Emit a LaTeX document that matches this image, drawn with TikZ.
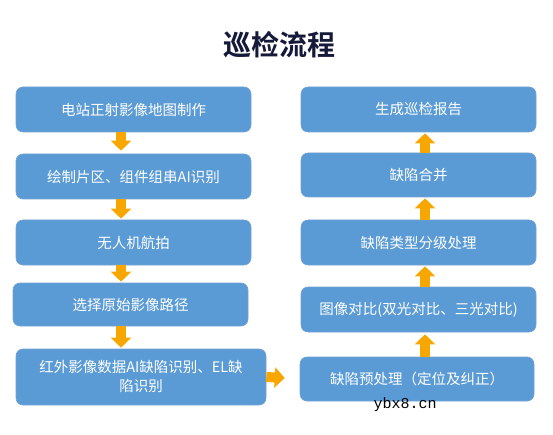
\documentclass[tikz,border=0pt]{standalone}
\usepackage{fontspec}
\usepackage{tikz}
\usetikzlibrary{arrows.meta, positioning}
\newfontfamily\cjk[BoldFont={Noto Sans CJK SC Bold}]{Noto Sans CJK SC}
\newfontfamily\wmfont{Liberation Mono}
\definecolor{boxblue}{RGB}{91,155,213}
\definecolor{boxedge}{RGB}{112,162,212}
\definecolor{flowgold}{RGB}{247,167,0}
\definecolor{titlenavy}{RGB}{22,26,58}

\begin{document}
\begin{tikzpicture}[x=1pt, y=-1pt,
    stepbox/.style={rectangle, rounded corners=7pt, fill=boxblue, draw=boxedge, line width=0.6pt,
      text=white, font=\cjk\fontsize{14.5}{19}\selectfont, align=center,
      minimum width=235pt, minimum height=45pt, inner sep=0pt},
    flow/.style={draw=flowgold, line width=10pt, -{Triangle[width=20pt 0 0, length=10pt 0 0]}}]
    \useasboundingbox (0,0) rectangle (553,435);

    % Title
    \node[font=\cjk\bfseries\fontsize{28}{32}\selectfont, text=titlenavy] (title) at (279,45) {巡检流程};

    % Left column
    \node[stepbox] (b1) at (133.5,109.5) {电站正射影像地图制作};
    \node[stepbox] (b2) at (133.5,176.5) {绘制片区、组件组串AI识别};
    \node[stepbox] (b3) at (133.5,242.5) {无人机航拍};
    \node[stepbox, minimum height=43pt] (b4) at (130.5,304.5) {选择原始影像路径};
    \node[stepbox, minimum width=250pt, minimum height=56pt] (b5) at (141,377)
        {红外影像数据AI缺陷识别、EL缺\\陷识别};

    % Right column
    \node[stepbox] (r1) at (418.5,109.5) {生成巡检报告};
    \node[stepbox, minimum height=44pt] (r2) at (418.5,175) {缺陷合并};
    \node[stepbox] (r3) at (418.5,242.5) {缺陷类型分级处理};
    \node[stepbox] (r4) at (418.5,309.5) {图像对比(双光对比、三光对比)};
    \node[stepbox, minimum width=234pt, minimum height=44pt] (r5) at (417,379) {缺陷预处理（定位及纠正）};

    % Arrows
    \coordinate (dn) at (121,0);
    \coordinate (up) at (425,0);
    \draw[flow, shorten >=3pt] (b1.south -| dn) -- (b2.north -| dn);
    \draw[flow, shorten >=1pt] (b2.south -| dn) -- (b3.north -| dn);
    \draw[flow, shorten >=1pt] (b3.south -| dn) -- (b4.north -| dn);
    \draw[flow, shorten >=1pt] (b4.south -| dn) -- (b5.north -| dn);
    \draw[flow, shorten >=15pt] (b5.east) -- (r5.west);
    \draw[flow, shorten >=2pt] (r5.north -| up) -- (r4.south -| up);
    \draw[flow, shorten >=1pt] (r4.north -| up) -- (r3.south -| up);
    \draw[flow, shorten >=1pt] (r3.north -| up) -- (r2.south -| up);
    \draw[flow, shorten >=1pt] (r2.north -| up) -- (r1.south -| up);

    % Watermark
    \node[font=\wmfont\fontsize{15}{15}\selectfont] (mark) at (405,405) {ybx8.cn};
\end{tikzpicture}
\end{document}
